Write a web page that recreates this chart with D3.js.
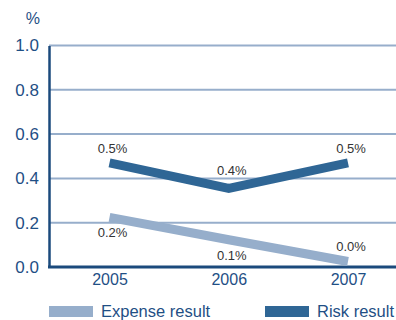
<!DOCTYPE html>
<html><head><meta charset="utf-8">
<script src="https://cdn.jsdelivr.net/npm/d3@7"></script>
<style>body{margin:0;background:#fff;}svg{display:block;font-family:"Liberation Sans",Arial,sans-serif;}</style>
</head><body><svg id="c" width="396" height="320"></svg>
<script>
const years = ["2005", "2006", "2007"];
const riskResult = [0.47, 0.355, 0.47];
const expenseResult = [0.224, 0.123, 0.025];
const yTicks = [0.0, 0.2, 0.4, 0.6, 0.8, 1.0];
const seriesNames = ["Expense result", "Risk result"];

(function () {
const svg = d3.select("#c");
const mLeft = 49, mRight = 396, mTop = 45.5, mBottom = 267;
const x = d3.scalePoint().domain(years).range([109.5, 348]);
const y = d3.scaleLinear().domain([0, 1]).range([mBottom, mTop]);
const gridCol = "#97aecb", axisCol = "#1b4a7c", textCol = "#1f4f85";
const riskCol = "#2f6695", expCol = "#96aecb";
const ff = "Liberation Sans, Arial, sans-serif";

svg.append("g").selectAll("line").data(yTicks.filter(d => d > 0)).join("line")
  .attr("x1", mLeft).attr("x2", mRight).attr("y1", d => y(d)).attr("y2", d => y(d))
  .attr("stroke", gridCol).attr("stroke-width", 2);

const ya = svg.append("g").attr("transform", `translate(${mLeft},0)`)
  .call(d3.axisLeft(y).tickValues(yTicks).tickFormat(d3.format(".1f")).tickSize(0).tickPadding(10));
ya.select(".domain").attr("stroke", axisCol).attr("stroke-width", 2.5);
ya.selectAll("text").attr("fill", textCol).attr("font-size", 17).attr("font-family", ff);

svg.append("text").attr("x", 40).attr("y", 23.5).attr("text-anchor", "end")
  .attr("fill", textCol).attr("font-size", 16).text("%");

const xa = svg.append("g").attr("transform", `translate(0,${mBottom})`)
  .call(d3.axisBottom(x).tickSize(0).tickPadding(7));
xa.select(".domain").remove();
xa.selectAll("text").attr("fill", textCol).attr("font-size", 16).attr("font-family", ff);
svg.append("line").attr("x1", mLeft - 1).attr("x2", mRight).attr("y1", mBottom).attr("y2", mBottom)
  .attr("stroke", axisCol).attr("stroke-width", 3);

const line = d3.line().x((d, i) => x(years[i])).y(d => y(d));
const fmt = v => d3.format(".1f")(v) + "%";

function drawSeries(vals, col, below) {
  svg.append("path").datum(vals).attr("d", line).attr("fill", "none")
    .attr("stroke", col).attr("stroke-width", 9).attr("stroke-linejoin", "miter").attr("stroke-linecap", "butt");
  svg.append("g").selectAll("text").data(vals).join("text")
    .attr("x", (d, i) => x(years[i]) + 3)
    .attr("y", (d, i) => {
      const py = y(d);
      if (below && py + 20 < mBottom - 4) return py + 20;
      const isMin = i > 0 && i < vals.length - 1 && d < vals[i - 1] && d < vals[i + 1];
      return py - (isMin ? 13.5 : 10);
    })
    .attr("text-anchor", "middle").attr("fill", "#333").attr("font-size", 13).attr("font-family", ff)
    .text(d => fmt(d));
}
drawSeries(expenseResult, expCol, true);
drawSeries(riskResult, riskCol, false);

const legX = [49, 265];
const legCols = [expCol, riskCol];
const lg = svg.append("g").selectAll("g").data(seriesNames).join("g")
  .attr("transform", (d, i) => `translate(${legX[i]},306)`);
lg.append("rect").attr("width", 44).attr("height", 11).attr("fill", (d, i) => legCols[i]);
lg.append("text").attr("x", 52).attr("y", 10.5).attr("fill", textCol).attr("font-size", 16.5).attr("font-family", ff).text(d => d);
})();
</script></body></html>
